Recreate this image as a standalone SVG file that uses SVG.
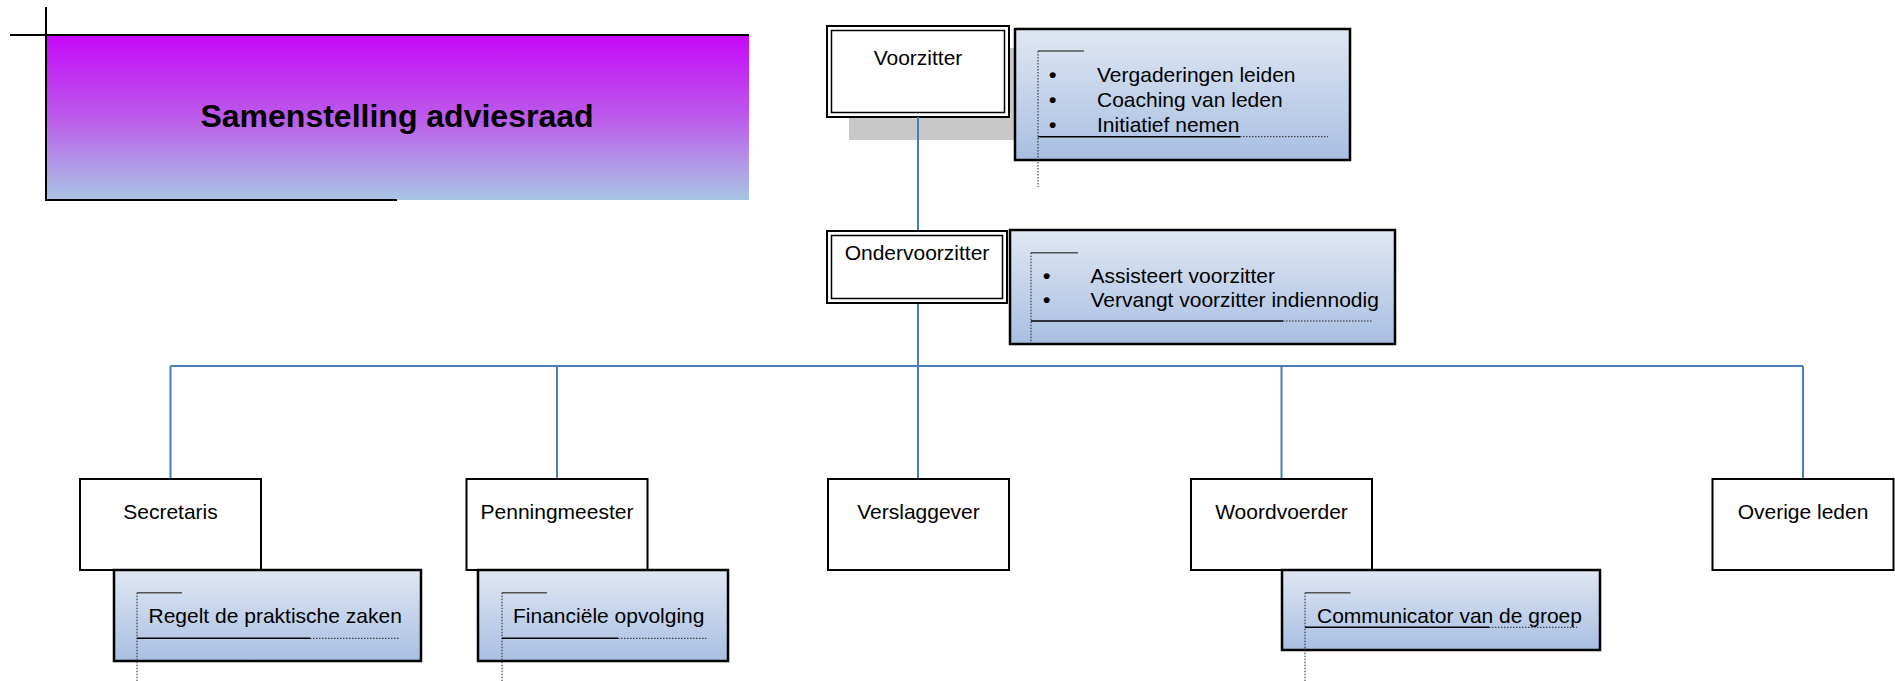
<svg xmlns="http://www.w3.org/2000/svg" width="1895" height="681" viewBox="0 0 1895 681">
<defs>
<linearGradient id="gTitle" x1="0" y1="0" x2="0" y2="1">
<stop offset="0" stop-color="#c708f9"/>
<stop offset="0.5" stop-color="#bc5aea"/>
<stop offset="1" stop-color="#a9c6e5"/>
</linearGradient>
<linearGradient id="gNote" x1="0" y1="0" x2="0" y2="1">
<stop offset="0" stop-color="#e0e7f3"/>
<stop offset="1" stop-color="#a8bfe2"/>
</linearGradient>
<style>
.t{font-family:"Liberation Sans",Arial,sans-serif;font-size:21px;fill:#000}
.c{text-anchor:middle}
.b{font-weight:bold}
.box{fill:#fff;stroke:#000;stroke-width:2}
.inner{fill:none;stroke:#000;stroke-width:1.5}
.note{fill:url(#gNote);stroke:#000;stroke-width:2.5}
.tick{stroke:#555;stroke-width:1.5;fill:none}
.sol{stroke:#000;stroke-width:1.5;fill:none}
.dot{stroke:#222;stroke-width:1;stroke-dasharray:1.5 1.5;fill:none}
.ln{stroke:#000;stroke-width:2;fill:none}
.con{stroke:#4a7ebb;stroke-width:2;fill:none}
</style>
</defs>
<rect width="1895" height="681" fill="#fff"/>

<g id="title">
<rect x="46" y="35" width="703" height="165" fill="url(#gTitle)"/>
<line class="ln" x1="10" y1="35" x2="749" y2="35"/>
<line class="ln" x1="46" y1="7" x2="46" y2="201"/>
<line class="ln" x1="45" y1="200" x2="397" y2="200"/>
<text class="t c" x="397" y="127" style="font-size:32px;font-weight:bold">Samenstelling adviesraad</text>
</g>

<g id="voorzitter">
<rect x="849" y="48" width="183" height="92" fill="#c8c8c8"/>
<rect class="box" x="827" y="26" width="182" height="91"/>
<rect class="inner" x="831.5" y="30.5" width="173" height="82"/>
<text class="t c" x="918" y="65">Voorzitter</text>
</g>

<g id="connectors">
<line class="con" x1="918" y1="117" x2="918" y2="231"/>
<line class="con" x1="918" y1="303" x2="918" y2="479"/>
<line class="con" x1="170.5" y1="366" x2="1803" y2="366"/>
<line class="con" x1="170.5" y1="366" x2="170.5" y2="479"/>
<line class="con" x1="557" y1="366" x2="557" y2="479"/>
<line class="con" x1="1281.5" y1="366" x2="1281.5" y2="479"/>
<line class="con" x1="1803" y1="366" x2="1803" y2="479"/>
</g>

<g id="note-voorzitter">
<rect class="note" x="1015" y="29" width="335" height="131"/>
<line class="tick" x1="1038" y1="51" x2="1084" y2="51"/>
<line class="dot" x1="1038" y1="51" x2="1038" y2="187"/>
<line class="sol" x1="1038" y1="136.7" x2="1240" y2="136.7"/>
<line class="dot" x1="1240" y1="136.7" x2="1328" y2="136.7"/>
<text class="t" y="81.7"><tspan class="b" x="1049">•</tspan><tspan x="1097">Vergaderingen leiden</tspan></text>
<text class="t" y="106.7"><tspan class="b" x="1049">•</tspan><tspan x="1097">Coaching van leden</tspan></text>
<text class="t" y="131.7"><tspan class="b" x="1049">•</tspan><tspan x="1097">Initiatief nemen</tspan></text>
</g>

<g id="ondervoorzitter">
<rect class="box" x="827" y="231" width="180" height="72"/>
<rect class="inner" x="831.5" y="235.5" width="171" height="63"/>
<text class="t c" x="917" y="260">Ondervoorzitter</text>
</g>

<g id="note-ondervoorzitter">
<rect class="note" x="1010" y="230" width="385" height="114"/>
<line class="tick" x1="1031" y1="252.7" x2="1078" y2="252.7"/>
<line class="dot" x1="1031" y1="252.7" x2="1031" y2="343"/>
<line class="sol" x1="1031" y1="321" x2="1283" y2="321"/>
<line class="dot" x1="1283" y1="321" x2="1373" y2="321"/>
<text class="t" y="282.5"><tspan class="b" x="1043">•</tspan><tspan x="1090.5">Assisteert voorzitter</tspan></text>
<text class="t" y="307"><tspan class="b" x="1043">•</tspan><tspan x="1090.5">Vervangt voorzitter indiennodig</tspan></text>
</g>

<g id="secretaris">
<rect class="box" x="80" y="479" width="181" height="91"/>
<text class="t c" x="170.5" y="519">Secretaris</text>
</g>
<g id="note-secretaris">
<rect class="note" x="114" y="570" width="307" height="91"/>
<line class="tick" x1="137" y1="592.7" x2="182" y2="592.7"/>
<line class="dot" x1="137" y1="592.7" x2="137" y2="681"/>
<line class="sol" x1="137" y1="638.3" x2="310" y2="638.3"/>
<line class="dot" x1="310" y1="638.3" x2="399" y2="638.3"/>
<text class="t" x="148.5" y="623">Regelt de praktische zaken</text>
</g>

<g id="penningmeester">
<rect class="box" x="466.5" y="479" width="181" height="91"/>
<text class="t c" x="557" y="519">Penningmeester</text>
</g>
<g id="note-penningmeester">
<rect class="note" x="478" y="570" width="250" height="91"/>
<line class="tick" x1="502" y1="592.7" x2="547" y2="592.7"/>
<line class="dot" x1="502" y1="592.7" x2="502" y2="681"/>
<line class="sol" x1="502" y1="638.3" x2="618" y2="638.3"/>
<line class="dot" x1="618" y1="638.3" x2="707" y2="638.3"/>
<text class="t" x="513" y="623">Financiële opvolging</text>
</g>

<g id="verslaggever">
<rect class="box" x="828" y="479" width="181" height="91"/>
<text class="t c" x="918.5" y="519">Verslaggever</text>
</g>

<g id="woordvoerder">
<rect class="box" x="1191" y="479" width="181" height="91"/>
<text class="t c" x="1281.5" y="519">Woordvoerder</text>
</g>
<g id="note-woordvoerder">
<rect class="note" x="1282" y="570" width="318" height="80"/>
<line class="tick" x1="1305" y1="592.7" x2="1350.5" y2="592.7"/>
<line class="dot" x1="1305" y1="592.7" x2="1305" y2="681"/>
<line class="sol" x1="1305" y1="627.3" x2="1489" y2="627.3"/>
<line class="dot" x1="1489" y1="627.3" x2="1577" y2="627.3"/>
<text class="t" x="1317" y="622.5">Communicator van de groep</text>
</g>

<g id="overige-leden">
<rect class="box" x="1712.5" y="479" width="181" height="91"/>
<text class="t c" x="1803" y="519">Overige leden</text>
</g>
</svg>
